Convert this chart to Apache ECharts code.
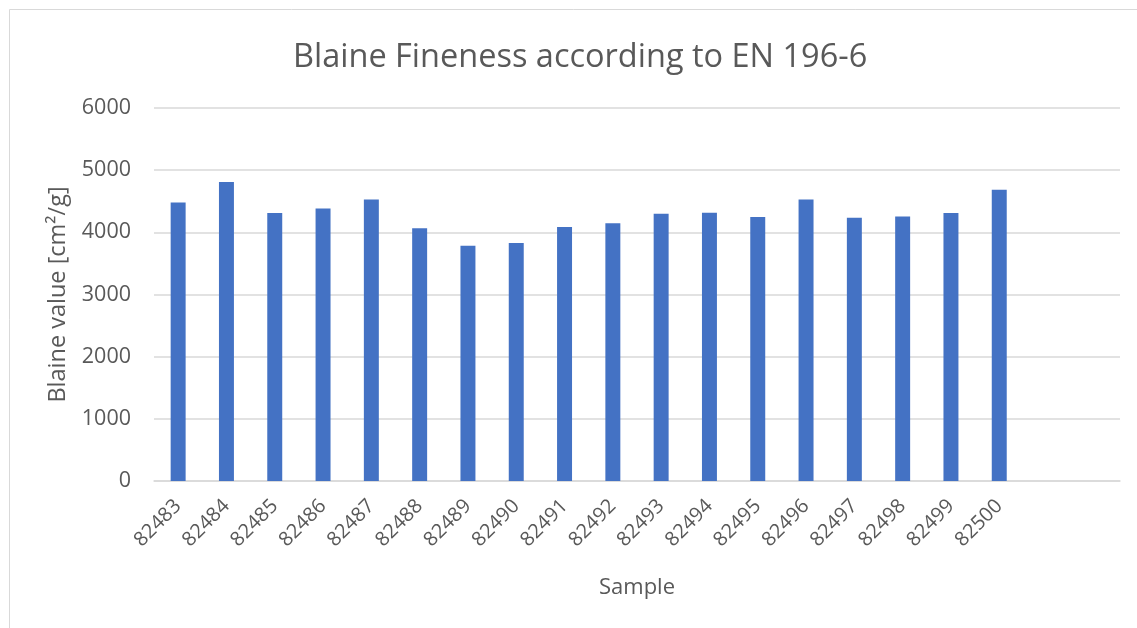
<!DOCTYPE html>
<html><head><meta charset="utf-8">
<script src="https://cdn.jsdelivr.net/npm/echarts@6/dist/echarts.min.js"></script>
<style>html,body{margin:0;padding:0;background:#fff}#c{width:1137px;height:628px}</style>
</head><body><div id="c"></div>
<script>
const categories = ['82483','82484','82485','82486','82487','82488','82489','82490','82491','82492','82493','82494','82495','82496','82497','82498','82499','82500','',''];
const blaine = [4480,4810,4310,4385,4530,4065,3785,3830,4085,4145,4300,4315,4245,4530,4235,4255,4310,4685,null,null];
const yTicks = [0,1000,2000,3000,4000,5000,6000];
const titleText = 'Blaine Fineness according to EN 196-6';
const yName = 'Blaine value [cm²/g]';
const xName = 'Sample';

const font = 'Open Sans, Liberation Sans, sans-serif';
const chart = echarts.init(document.getElementById('c'));
chart.setOption({
  animation:false,
  backgroundColor:'#fff',
  title:{text:titleText,left:288,top:36,textStyle:{fontFamily:font,fontSize:32.5,fontWeight:'normal',color:'#595959'}},
  graphic:[{type:'rect',shape:{x:9.5,y:9.5,width:1140,height:640},style:{fill:'none',stroke:'#d9d9d9',lineWidth:1}}],
  grid:{left:154,right:17,top:108,bottom:147},
  xAxis:{type:'category',data:categories,
    axisLine:{lineStyle:{color:'#d9d9d9',width:1.5}},axisTick:{show:false},
    axisLabel:{rotate:45,interval:0,color:'#595959',fontFamily:font,fontSize:20,margin:22},
    name:xName,nameLocation:'middle',nameGap:96,nameTextStyle:{color:'#595959',fontFamily:font,fontSize:22}},
  yAxis:{type:'value',min:yTicks[0],max:yTicks[yTicks.length-1],interval:1000,
    axisLine:{show:false},axisTick:{show:false},
    splitLine:{lineStyle:{color:'#d9d9d9',width:1.5}},
    axisLabel:{color:'#595959',fontFamily:font,fontSize:21.5,margin:23,formatter:v=>String(v)},
    name:yName,nameLocation:'middle',nameGap:84,nameTextStyle:{color:'#595959',fontFamily:font,fontSize:23.5}},
  series:[{type:'bar',data:blaine,barWidth:'31%',itemStyle:{color:'#4472C4'}}]
});
</script></body></html>
